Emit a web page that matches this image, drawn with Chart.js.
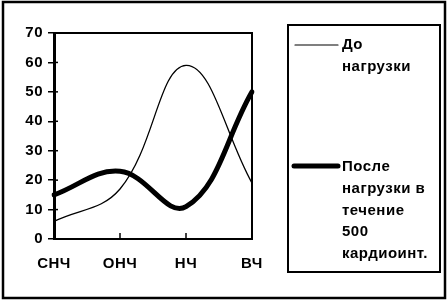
<!DOCTYPE html>
<html>
<head>
<meta charset="utf-8">
<script src="https://cdn.jsdelivr.net/npm/chart.js@4"></script>
<style>
  html, body { margin: 0; padding: 0; background: #fff; }
  #wrap { width: 448px; height: 302px; position: relative; }
</style>
</head>
<body>
<div id="wrap"><canvas id="chart" width="448" height="302"></canvas></div>
<script>
// --- Data ---
const categories = ['СНЧ', 'ОНЧ', 'НЧ', 'ВЧ'];
const beforeLoad = [6, 17, 59, 19];
const afterLoad = [15, 23, 11, 50];
const beforeLegend = ['До', 'нагрузки'];
const afterLegend = ['После', 'нагрузки в', 'течение', '500', 'кардиоинт.'];
const yMin = 0, yMax = 70, yStep = 10;

const FONT = 'Liberation Sans';
const SPACING = '0.5px';

// draws the outer frame, plot box, inner tick halves and the legend box
const framePlugin = {
    id: 'frame',
    beforeDraw(chart) {
        // slightly wider lettering, like the scanned original
        chart.ctx.letterSpacing = SPACING;
    },
    beforeDatasetsDraw(chart) {
        const ctx = chart.ctx;
        const a = chart.chartArea;
        ctx.save();
        ctx.strokeStyle = '#000';
        // plot area box (top + right)
        ctx.lineWidth = 2;
        ctx.beginPath();
        ctx.moveTo(a.left, a.top);
        ctx.lineTo(a.right, a.top);
        ctx.lineTo(a.right, a.bottom);
        ctx.stroke();
        // inner halves of y ticks
        const y = chart.scales.y;
        ctx.lineWidth = 1.5;
        y.ticks.forEach(t => {
            const py = y.getPixelForValue(t.value);
            ctx.beginPath();
            ctx.moveTo(a.left, py);
            ctx.lineTo(a.left + 4, py);
            ctx.stroke();
        });
        // x ticks point up into the plot
        const x = chart.scales.x;
        categories.forEach((c, i) => {
            const px = x.getPixelForValue(i);
            ctx.beginPath();
            ctx.moveTo(px, a.bottom);
            ctx.lineTo(px, a.bottom - 6);
            ctx.stroke();
        });
        ctx.restore();
    },
    afterDraw(chart) {
        const ctx = chart.ctx;
        ctx.save();
        ctx.strokeStyle = '#000';
        // outer frame
        ctx.lineWidth = 2.5;
        ctx.strokeRect(3, 2, 442, 296);
        // legend box
        ctx.lineWidth = 2;
        ctx.strokeRect(288, 25, 152, 247);
        // legend samples
        ctx.lineCap = 'round';
        ctx.lineWidth = 1.2;
        ctx.beginPath(); ctx.moveTo(295, 45); ctx.lineTo(338, 45); ctx.stroke();
        ctx.lineWidth = 5;
        ctx.beginPath(); ctx.moveTo(294, 166); ctx.lineTo(338, 166); ctx.stroke();
        // legend text
        ctx.fillStyle = '#000';
        ctx.font = 'bold 15px "' + FONT + '"';
        ctx.letterSpacing = SPACING;
        ctx.textBaseline = 'middle';
        ctx.textAlign = 'left';
        beforeLegend.forEach((s, i) => ctx.fillText(s, 342, 45 + i * 21.7));
        afterLegend.forEach((s, i) => ctx.fillText(s, 342, 167 + i * 21.7));
        ctx.restore();
    }
};

new Chart(document.getElementById('chart').getContext('2d'), {
    type: 'line',
    data: {
        labels: categories,
        datasets: [{
            label: 'До нагрузки',
            data: beforeLoad,
            borderColor: '#000',
            borderWidth: 1.3,
            tension: 0.4,
            pointRadius: 0,
            fill: false
        }, {
            label: 'После нагрузки в течение 500 кардиоинт.',
            data: afterLoad,
            borderColor: '#000',
            borderWidth: 5,
            tension: 0.4,
            pointRadius: 0,
            borderCapStyle: 'round',
            fill: false
        }]
    },
    options: {
        responsive: false,
        animation: false,
        layout: { padding: { left: 0, top: 33, right: 196, bottom: 0 } },
        plugins: {
            legend: { display: false },
            tooltip: { enabled: false }
        },
        scales: {
            x: {
                offset: false,
                grid: { display: true, drawOnChartArea: false, drawTicks: false },
                border: { display: true, color: '#000', width: 2 },
                ticks: {
                    color: '#000',
                    font: { family: FONT, size: 15, weight: 'bold' },
                    padding: 16,
                    autoSkip: false,
                    maxRotation: 0,
                    minRotation: 0
                },
                afterFit(scale) { scale.height = 63; }
            },
            y: {
                min: yMin,
                max: yMax,
                grid: { drawOnChartArea: false, tickLength: 6, color: '#000', lineWidth: 1.5 },
                border: { display: true, color: '#000', width: 3 },
                ticks: {
                    stepSize: yStep,
                    color: '#000',
                    font: { family: FONT, size: 15, weight: 'bold' },
                    padding: 5
                },
                afterFit(scale) { scale.width = 54; }
            }
        }
    },
    plugins: [framePlugin]
});
</script>
</body>
</html>
